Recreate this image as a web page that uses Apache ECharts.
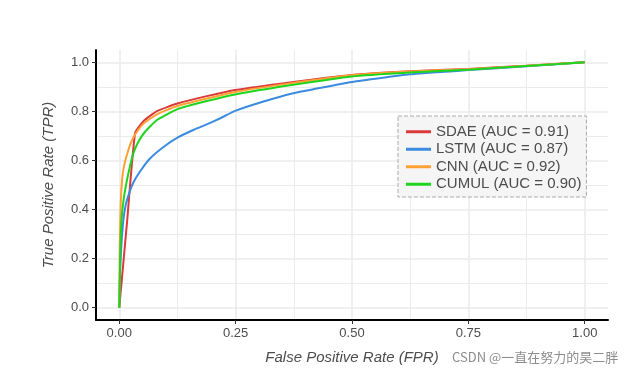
<!DOCTYPE html>
<html style="height: 100%">
	<head>
		<meta charset="utf-8">
	</head>
	<body style="height: 100%; margin: 0; background: #fff">
		<div id="container" style="width: 634px; height: 376px"></div>

		<script type="text/javascript" src="https://cdn.jsdelivr.net/npm/echarts@6/dist/echarts.min.js"></script>
		<script type="text/javascript">
			var dom = document.getElementById("container");
			var myChart = echarts.init(dom);

			// tick labels
			const xTicks = [0, 0.25, 0.5, 0.75, 1];
			const xMinor = [0.125, 0.375, 0.625, 0.875];
			const yTicks = [0, 0.2, 0.4, 0.6, 0.8, 1];
			const yMinor = [0.1, 0.3, 0.5, 0.7, 0.9];

			const modelNames = ['SDAE', 'LSTM', 'CNN', 'CUMUL'];
			const aucValues = ['0.91', '0.87', '0.92', '0.90'];

			// ROC points [FPR, TPR]
			const sdaeRoc = [
				[0, 0], [0.017, 0.356], [0.034, 0.712], [0.052, 0.76], [0.081, 0.801],
				[0.125, 0.832], [0.188, 0.862], [0.249, 0.887], [0.367, 0.918],
				[0.5, 0.948], [0.625, 0.963], [0.75, 0.973], [0.875, 0.986], [1, 1]
			];
			const lstmRoc = [
				[0, 0], [0.002, 0.16], [0.005, 0.27], [0.009, 0.36], [0.014, 0.42],
				[0.02, 0.46], [0.03, 0.509], [0.045, 0.556], [0.066, 0.608],
				[0.095, 0.655], [0.125, 0.693], [0.16, 0.725], [0.188, 0.747],
				[0.217, 0.772], [0.249, 0.802], [0.31, 0.84], [0.367, 0.871],
				[0.5, 0.92], [0.625, 0.951], [0.75, 0.968], [0.875, 0.984], [1, 1]
			];
			const cnnRoc = [
				[0, 0], [0.001, 0.25], [0.003, 0.42], [0.006, 0.52], [0.01, 0.575],
				[0.016, 0.62], [0.024, 0.668], [0.034, 0.706], [0.052, 0.75],
				[0.081, 0.788], [0.125, 0.822], [0.188, 0.852], [0.249, 0.879],
				[0.367, 0.914], [0.5, 0.947], [0.625, 0.962], [0.75, 0.972],
				[0.875, 0.986], [1, 1]
			];
			const cumulRoc = [
				[0, 0], [0.002, 0.22], [0.005, 0.36], [0.01, 0.45], [0.016, 0.515],
				[0.023, 0.577], [0.03, 0.628], [0.041, 0.676], [0.055, 0.716],
				[0.081, 0.765], [0.125, 0.809], [0.188, 0.842], [0.249, 0.869],
				[0.367, 0.906], [0.5, 0.942], [0.625, 0.958], [0.75, 0.97],
				[0.875, 0.985], [1, 1]
			];
			const rocData = [sdaeRoc, lstmRoc, cnnRoc, cumulRoc];
			const colors = ['#D93B3B', '#3B8BE0', '#FFA033', '#1FD41F'];

			const txt = '#4d4d4d';
			const gridCol = '#ebebeb';

			function mainAxis(ticks, fmt, pos) {
				return {
					type: 'value',
					position: pos,
					min: -0.05,
					max: 1.05,
					axisLine: { show: true, onZero: false, lineStyle: { color: '#000', width: 2 } },
					axisTick: { show: true, length: 4, customValues: ticks, lineStyle: { color: '#333', width: 1 } },
					axisLabel: {
						customValues: ticks,
						formatter: function (v) { return v.toFixed(fmt); },
						color: txt, fontSize: 13, fontFamily: 'Liberation Sans',
						margin: 7
					},
					splitLine: { show: true, lineStyle: { color: gridCol, width: 1.6 } }
				};
			}
			function minorAxis(ticks, pos) {
				return {
					type: 'value',
					position: pos,
					min: -0.05,
					max: 1.05,
					axisLine: { show: false },
					axisTick: { show: false, customValues: ticks },
					axisLabel: { show: false },
					splitLine: { show: true, lineStyle: { color: gridCol, width: 1 } }
				};
			}

			const xMain = mainAxis(xTicks, 2, 'bottom');
			xMain.name = 'False Positive Rate (FPR)';
			xMain.nameLocation = 'middle';
			xMain.nameGap = 30;
			xMain.nameTextStyle = { color: txt, fontSize: 15, fontStyle: 'italic', fontFamily: 'Liberation Sans' };
			const yMain = mainAxis(yTicks, 1, 'left');
			yMain.name = 'True Positive Rate (TPR)';
			yMain.nameLocation = 'middle';
			yMain.nameGap = 40;
			yMain.nameTextStyle = { color: txt, fontSize: 15, fontStyle: 'italic', fontFamily: 'Liberation Sans' };

			const series = modelNames.map(function (n, i) {
				return {
					name: n + ' (AUC = ' + aucValues[i] + ')',
					type: 'line',
					data: rocData[i],
					showSymbol: false,
					smooth: 0.15,
					color: colors[i],
					lineStyle: { width: 2, color: colors[i] }
				};
			});

			var option = {
				animation: false,
				grid: { left: 96, top: 50, right: 26, bottom: 56 },
				xAxis: [minorAxis(xMinor, 'bottom'), xMain],
				yAxis: [minorAxis(yMinor, 'left'), yMain],
				legend: {
					orient: 'vertical',
					left: 398,
					top: 116,
					padding: [8, 5, 5, 8],
					itemGap: 2,
					itemWidth: 25,
					itemHeight: 3,
					icon: 'rect',
					backgroundColor: '#f5f5f5',
					borderColor: '#aaa',
					borderWidth: 1,
					borderType: 'dashed',
					textStyle: { color: txt, fontSize: 15, fontFamily: 'Liberation Sans', lineHeight: 15.5 },
					data: series.map(function (s) { return s.name; })
				},
				graphic: [{
					type: 'text',
					left: 452,
					top: 351,
					style: {
						text: 'CSDN @一直在努力的昊二胖',
						fill: '#8c8c8c',
						font: '13px "Noto Sans CJK SC"'
					}
				}],
				series: series.map(function (s) {
					s.xAxisIndex = 1;
					s.yAxisIndex = 1;
					return s;
				})
			};

			if (option && typeof option === 'object') {
				myChart.setOption(option);
			}
		</script>
	</body>
</html>
